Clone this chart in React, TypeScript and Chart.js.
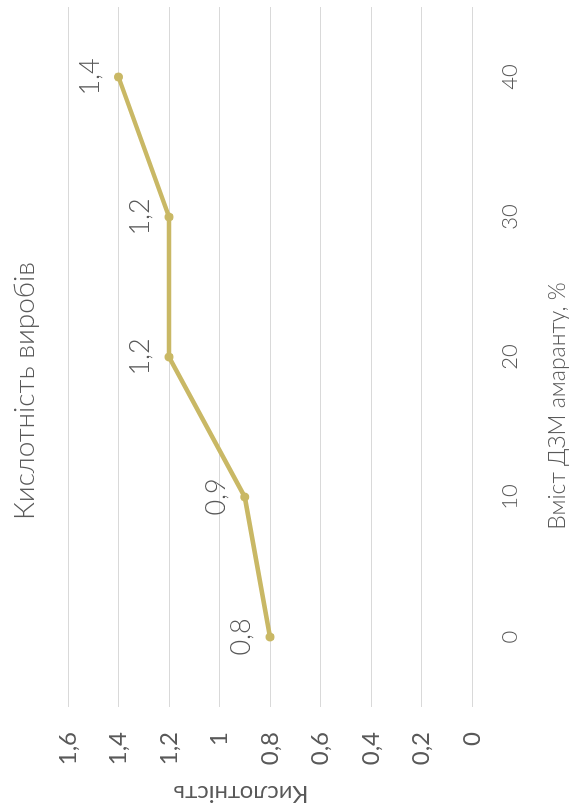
import React, { useEffect, useRef } from "react";
import { Chart, registerables } from "chart.js";

Chart.register(...registerables);

// Data: acidity of products vs amaranth content
const categories = ["0", "10", "20", "30", "40"];
const acidity = [0.8, 0.9, 1.2, 1.2, 1.4];
const yTicks = [0, 0.2, 0.4, 0.6, 0.8, 1, 1.2, 1.4, 1.6];

const chartTitle = "Кислотність виробів";
const xTitle = "Вміст ДЗМ амаранту, %";
const yTitle = "Кислотність";

const W = 807;
const H = 574;
const TEXT = "#595959";
const LINE = "#c9b865";
const FONT = "Lato, 'Open Sans', sans-serif";

const fmt = (v: number) => String(v).replace(".", ",");

const textPlugin = {
  id: "textPlugin",
  afterDatasetsDraw(chart: any) {
    const { ctx, chartArea } = chart;
    ctx.save();
    ctx.fillStyle = TEXT;

    // value labels above points
    ctx.font = `300 27px ${FONT}`;
    ctx.textAlign = "center";
    ctx.textBaseline = "alphabetic";
    const meta = chart.getDatasetMeta(0);
    meta.data.forEach((pt: any, i: number) => {
      ctx.fillText(fmt(acidity[i]), pt.x, pt.y - 20);
    });

    // chart title
    ctx.font = `300 28px ${FONT}`;
    ctx.textBaseline = "middle";
    ctx.fillText(chartTitle, 416, 25);

    // x axis title
    ctx.font = `300 23px ${FONT}`;
    ctx.fillText(xTitle, 401, 558);

    // y axis title
    ctx.font = `24px ${FONT}`;
    ctx.translate(13, (chartArea.top + chartArea.bottom) / 2 - 29);
    ctx.rotate(-Math.PI / 2);
    ctx.fillText(yTitle, 0, 0);
    ctx.restore();
  },
};

export default function App() {
  const ref = useRef<HTMLCanvasElement>(null);

  useEffect(() => {
    document.body.style.margin = "0";
    const chart = new Chart(ref.current!, {
      type: "line",
      data: {
        labels: categories,
        datasets: [
          {
            data: acidity,
            borderColor: LINE,
            backgroundColor: LINE,
            borderWidth: 4.5,
            pointRadius: 4.5,
            pointBorderWidth: 0,
            pointBackgroundColor: LINE,
            tension: 0,
          },
        ],
      },
      options: {
        animation: false,
        responsive: false,
        layout: { padding: { top: 68, right: 7, left: 0, bottom: 0 } },
        plugins: {
          legend: { display: false },
          title: { display: false },
          tooltip: { enabled: false },
        },
        scales: {
          x: {
            type: "category",
            offset: true,
            grid: { display: false, drawTicks: false },
            border: { display: false },
            ticks: {
              color: TEXT,
              padding: 25,
              font: { family: FONT, size: 22, weight: "300" },
              maxRotation: 0,
            },
            afterFit(scale: any) {
              scale.height = 102;
            },
          },
          y: {
            min: 0,
            max: 1.6,
            afterBuildTicks(scale: any) {
              scale.ticks = yTicks.map((v) => ({ value: v }));
            },
            grid: { color: "#d9d9d9", lineWidth: 1, drawTicks: false },
            border: { display: false },
            ticks: {
              color: TEXT,
              padding: 25,
              font: { family: FONT, size: 24 },
              callback: (v: any) => fmt(Number(v)),
            },
            afterFit(scale: any) {
              scale.width = 100;
            },
          },
        },
      },
      plugins: [textPlugin],
    });
    return () => chart.destroy();
  }, []);

  return (
    <div
      style={{
        position: "fixed",
        left: 0,
        top: 0,
        width: H,
        height: W,
        overflow: "hidden",
        background: "#fff",
      }}
    >
      <div
        style={{
          width: W,
          height: H,
          transformOrigin: "0 0",
          transform: `translateY(${W}px) rotate(-90deg)`,
        }}
      >
        <canvas ref={ref} width={W} height={H} style={{ display: "block" }} />
      </div>
    </div>
  );
}
